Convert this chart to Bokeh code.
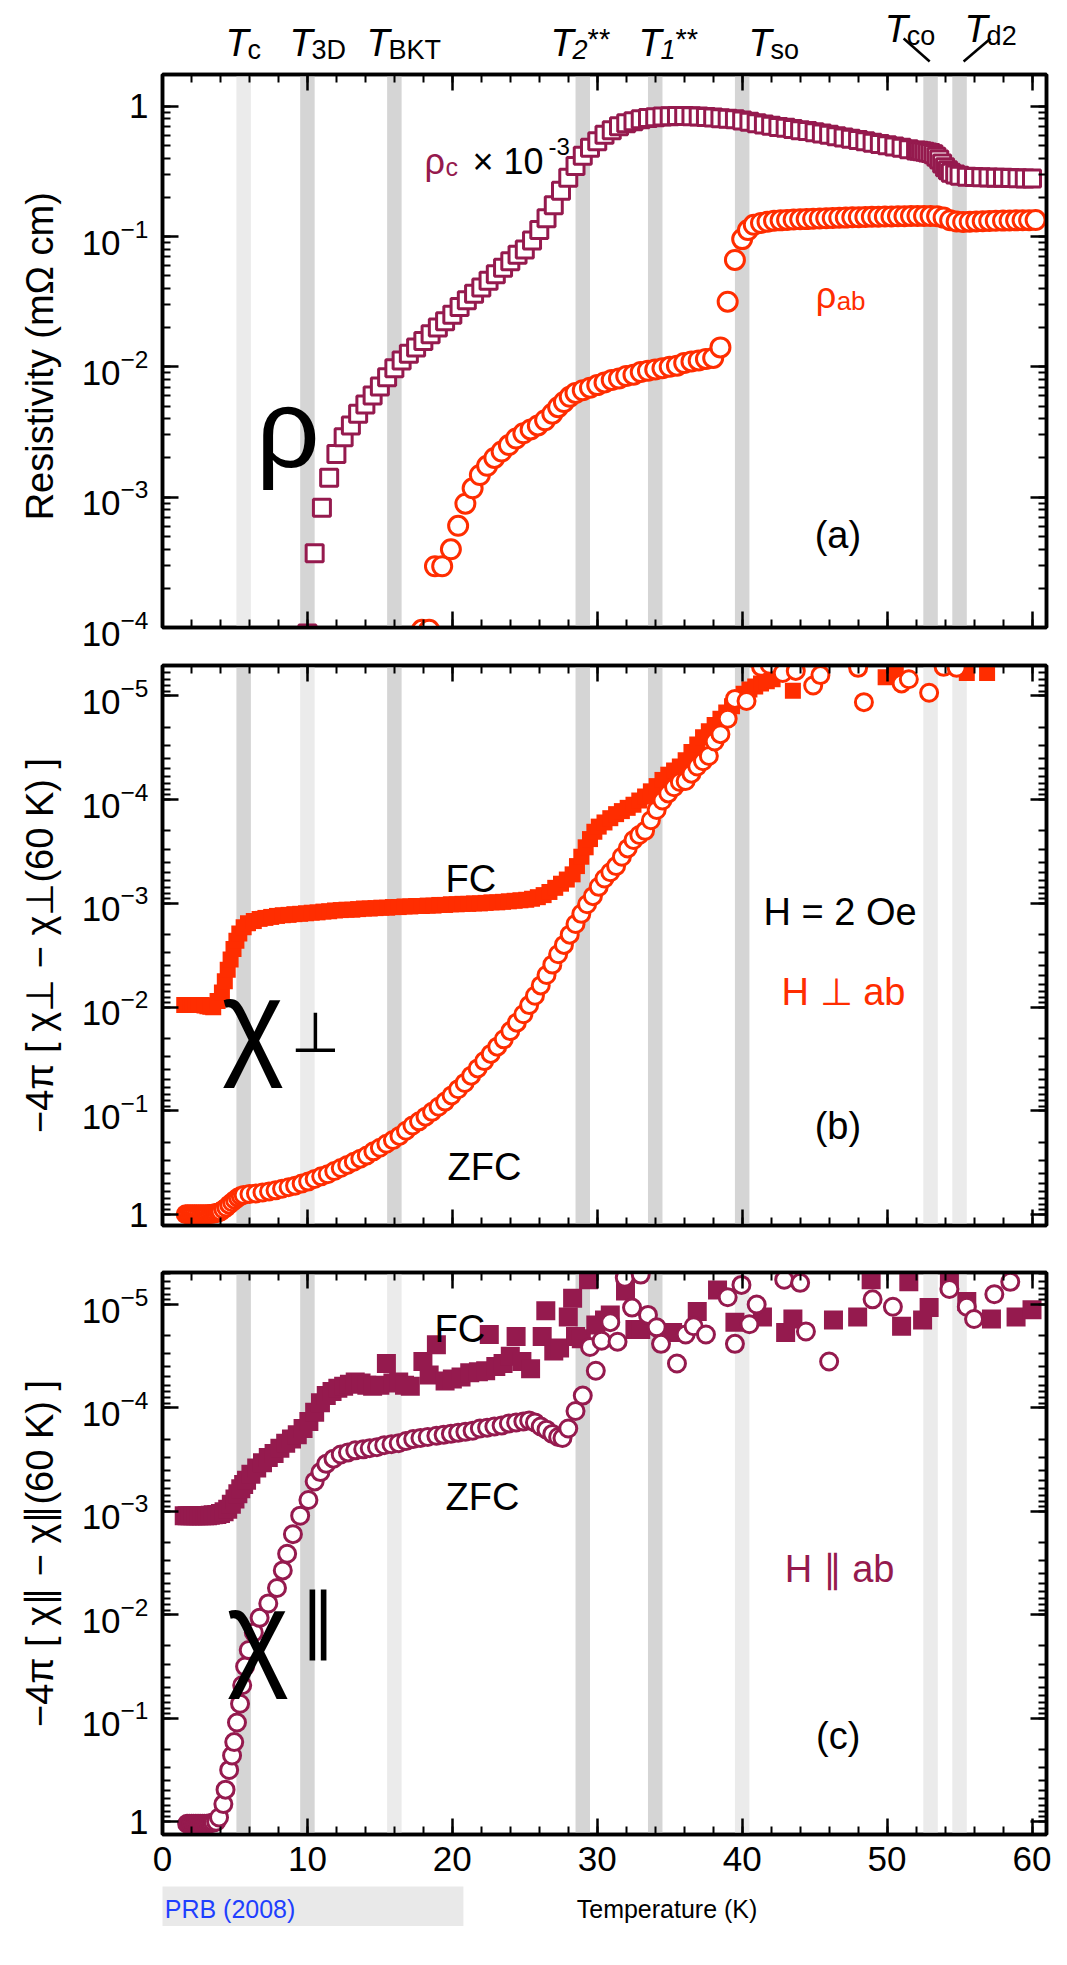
from bokeh.plotting import figure
from bokeh.models import (Range1d, LinearAxis, LogAxis, SingleIntervalTicker,
                          LogTicker, LogTickFormatter, CustomJSTickFormatter)
from bokeh.layouts import column
from bokeh.core.properties import value
from bokeh.embed import file_html
from bokeh.resources import INLINE

# ---------------------------------------------------------------- data
# (temperature K, value) pairs

# panel (a): resistivity, rho_c x 1e-3 (open squares) and rho_ab (open circles)
rho_c = [
    (10.0, 9.0e-5), (10.5, 3.72e-4), (11.0, 8.3e-4), (11.5, 1.41e-3), (12.0, 2.14e-3),
    (12.5, 2.88e-3), (13.0, 3.55e-3), (13.5, 4.37e-3), (14.0, 5.13e-3), (14.5, 6.03e-3),
    (15.0, 7.08e-3), (15.5, 8.32e-3), (16.0, 9.77e-3), (16.5, 1.12e-2), (17.0, 1.26e-2),
    (17.5, 1.41e-2), (18.0, 1.58e-2), (18.5, 1.78e-2), (19.0, 2.00e-2), (19.5, 2.24e-2),
    (20.0, 2.51e-2), (20.5, 2.88e-2), (21.0, 3.24e-2), (21.5, 3.63e-2), (22.0, 4.07e-2),
    (22.5, 4.57e-2), (23.0, 5.13e-2), (23.5, 5.75e-2), (24.0, 6.46e-2), (24.5, 7.24e-2),
    (25.0, 7.94e-2), (25.5, 9.33e-2), (26.0, 0.112), (26.5, 0.138), (27.0, 0.174),
    (27.5, 0.224), (28.0, 0.282), (28.5, 0.347), (29.0, 0.417), (29.5, 0.479),
    (30.0, 0.537), (30.5, 0.603), (31.0, 0.653), (31.5, 0.700), (32.0, 0.741),
    (32.5, 0.767), (33.0, 0.794), (33.5, 0.813), (34.0, 0.822), (34.5, 0.832),
    (35.0, 0.838), (35.5, 0.841), (36.0, 0.841), (36.5, 0.838), (37.0, 0.832),
    (37.5, 0.826), (38.0, 0.818), (38.5, 0.809), (39.0, 0.800), (39.5, 0.794),
    (40.0, 0.776), (40.5, 0.759), (41.0, 0.741), (41.5, 0.724), (42.0, 0.708),
    (42.5, 0.692), (43.0, 0.684), (43.5, 0.668), (44.0, 0.653), (44.5, 0.646),
    (45.0, 0.631), (45.5, 0.617), (46.0, 0.603), (46.5, 0.589), (47.0, 0.575),
    (47.5, 0.562), (48.0, 0.550), (48.5, 0.537), (49.0, 0.525), (49.5, 0.513),
    (50.0, 0.501), (50.5, 0.490), (51.0, 0.479), (51.5, 0.468), (52.0, 0.457),
    (52.2, 0.454), (52.4, 0.450), (52.6, 0.447), (52.8, 0.442), (53.0, 0.437),
    (53.2, 0.427), (53.4, 0.410), (53.6, 0.390), (53.8, 0.363), (54.0, 0.340),
    (54.2, 0.322), (54.4, 0.309), (54.7, 0.299), (55.0, 0.292), (55.5, 0.288),
    (56.0, 0.286), (56.5, 0.285), (57.0, 0.284), (57.5, 0.282), (58.0, 0.282),
    (58.5, 0.281), (59.0, 0.280), (59.5, 0.279), (60.0, 0.279),
]

rho_ab = [
    (17.9, 9.6e-5), (18.4, 9.6e-5), (18.8, 2.95e-4), (19.3, 2.95e-4), (19.9, 3.98e-4),
    (20.4, 6.03e-4), (20.9, 8.91e-4), (21.4, 1.17e-3), (21.9, 1.48e-3), (22.4, 1.74e-3),
    (22.9, 2.00e-3), (23.4, 2.24e-3), (23.9, 2.51e-3), (24.4, 2.82e-3), (24.9, 3.09e-3),
    (25.4, 3.31e-3), (25.9, 3.55e-3), (26.4, 3.89e-3), (26.9, 4.37e-3), (27.3, 4.90e-3),
    (27.7, 5.37e-3), (28.1, 5.89e-3), (28.5, 6.31e-3), (29.0, 6.61e-3), (29.5, 6.92e-3),
    (30.0, 7.24e-3), (30.5, 7.59e-3), (31.0, 7.94e-3), (31.5, 8.13e-3), (32.0, 8.51e-3),
    (32.5, 8.71e-3), (33.0, 9.12e-3), (33.5, 9.33e-3), (34.0, 9.55e-3), (34.5, 9.77e-3),
    (35.0, 1.00e-2), (35.5, 1.02e-2), (36.0, 1.07e-2), (36.5, 1.10e-2), (37.0, 1.12e-2),
    (37.5, 1.15e-2), (38.0, 1.17e-2), (38.5, 1.41e-2), (39.0, 3.16e-2), (39.5, 6.61e-2),
    (40.0, 9.55e-2), (40.4, 0.112), (40.8, 0.123), (41.3, 0.127), (41.75, 0.130),
    (42.2, 0.132), (42.65, 0.133), (43.1, 0.134), (43.55, 0.135), (44.0, 0.1355),
    (44.45, 0.136), (44.9, 0.1368), (45.35, 0.1374), (45.8, 0.138), (46.25, 0.1387),
    (46.7, 0.1393), (47.15, 0.1396), (47.6, 0.1403), (48.05, 0.1406), (48.5, 0.1413),
    (48.95, 0.1416), (49.4, 0.1419), (49.85, 0.1422), (50.3, 0.1426), (50.75, 0.1429),
    (51.2, 0.1432), (51.65, 0.1435), (52.1, 0.1439), (52.55, 0.1439), (53.0, 0.1435),
    (53.45, 0.1429), (53.9, 0.1396), (54.35, 0.1334), (54.8, 0.1303), (55.25, 0.1294),
    (55.7, 0.1300), (56.15, 0.1306), (56.6, 0.1312), (57.05, 0.1318), (57.5, 0.1321),
    (58.0, 0.1324), (58.45, 0.1327), (58.9, 0.1330), (59.35, 0.1334), (59.8, 0.1334),
    (60.25, 0.1337),
]

# panel (b): -4pi[chi_perp - chi_perp(60 K)], FC (filled squares) and ZFC (open circles)
chi_perp_fc = [
    (1.5, 9.55e-3), (1.7, 9.55e-3), (1.9, 9.55e-3), (2.1, 9.55e-3), (2.3, 9.55e-3),
    (2.5, 9.55e-3), (2.7, 9.55e-3), (2.9, 9.66e-3), (3.1, 9.77e-3), (3.3, 9.89e-3),
    (3.5, 1.00e-2), (3.8, 8.71e-3), (4.1, 7.24e-3), (4.3, 5.62e-3), (4.5, 4.37e-3),
    (4.7, 3.47e-3), (4.9, 2.75e-3), (5.1, 2.29e-3), (5.3, 1.95e-3), (5.6, 1.70e-3),
    (5.9, 1.55e-3), (6.3, 1.48e-3), (6.7, 1.41e-3), (7.1, 1.38e-3), (7.5, 1.35e-3),
    (7.9, 1.32e-3), (8.3, 1.30e-3), (8.7, 1.29e-3), (9.1, 1.27e-3), (9.5, 1.26e-3),
    (9.9, 1.245e-3), (10.3, 1.23e-3), (10.7, 1.22e-3), (11.1, 1.20e-3), (11.5, 1.19e-3),
    (11.9, 1.17e-3), (12.3, 1.16e-3), (12.7, 1.15e-3), (13.1, 1.15e-3), (13.5, 1.135e-3),
    (13.9, 1.12e-3), (14.3, 1.12e-3), (14.7, 1.11e-3), (15.1, 1.10e-3), (15.5, 1.10e-3),
    (15.9, 1.085e-3), (16.3, 1.085e-3), (16.7, 1.07e-3), (17.1, 1.07e-3), (17.5, 1.06e-3),
    (17.9, 1.06e-3), (18.3, 1.05e-3), (18.7, 1.05e-3), (19.1, 1.035e-3), (19.5, 1.035e-3),
    (19.9, 1.02e-3), (20.3, 1.02e-3), (20.7, 1.01e-3), (21.1, 1.01e-3), (21.5, 1.00e-3),
    (21.9, 1.00e-3), (22.3, 9.89e-4), (22.7, 9.77e-4), (23.1, 9.77e-4), (23.5, 9.66e-4),
    (23.9, 9.55e-4), (24.3, 9.44e-4), (24.7, 9.33e-4), (25.1, 9.23e-4), (25.5, 9.02e-4),
    (25.9, 8.71e-4), (26.3, 8.32e-4), (26.7, 7.76e-4), (27.1, 7.08e-4), (27.5, 6.46e-4),
    (27.9, 5.89e-4), (28.3, 5.25e-4), (28.6, 4.37e-4), (28.9, 3.55e-4), (29.2, 2.88e-4),
    (29.5, 2.40e-4), (29.8, 2.04e-4), (30.1, 1.82e-4), (30.5, 1.66e-4), (30.9, 1.51e-4),
    (31.3, 1.38e-4), (31.7, 1.29e-4), (32.1, 1.20e-4), (32.5, 1.12e-4), (32.9, 1.02e-4),
    (33.3, 9.33e-5), (33.7, 8.32e-5), (34.1, 7.41e-5), (34.5, 6.46e-5), (34.9, 5.75e-5),
    (35.3, 5.25e-5), (35.7, 4.79e-5), (36.1, 4.17e-5), (36.5, 3.47e-5), (36.9, 2.95e-5),
    (37.3, 2.51e-5), (37.7, 2.19e-5), (38.1, 1.91e-5), (38.5, 1.66e-5), (38.9, 1.45e-5),
    (39.3, 1.26e-5), (39.7, 1.10e-5), (40.1, 9.55e-6), (40.5, 8.71e-6), (40.9, 8.13e-6),
    (41.3, 7.59e-6), (41.7, 7.24e-6), (42.1, 6.92e-6), (43.5, 8.91e-6), (49.9, 6.61e-6),
    (50.6, 6.31e-6), (55.5, 6.03e-6), (56.9, 6.03e-6),
]

chi_perp_zfc = [
    (1.6, 0.989), (1.75, 0.989), (1.9, 0.989), (2.05, 0.989), (2.2, 0.989),
    (2.35, 0.989), (2.5, 0.989), (2.65, 0.989), (2.8, 0.989), (2.95, 0.988),
    (3.1, 0.987), (3.25, 0.985), (3.4, 0.981), (3.55, 0.975), (3.7, 0.963),
    (3.85, 0.950), (4.0, 0.933), (4.2, 0.890), (4.4, 0.851), (4.6, 0.800),
    (4.8, 0.759), (5.0, 0.720), (5.2, 0.684), (5.4, 0.660), (5.6, 0.646),
    (6.0, 0.631), (6.45, 0.624), (6.9, 0.610), (7.35, 0.596), (7.8, 0.582),
    (8.25, 0.562), (8.7, 0.543), (9.15, 0.525), (9.6, 0.501), (10.05, 0.479),
    (10.5, 0.452), (10.95, 0.427), (11.4, 0.407), (11.85, 0.380), (12.3, 0.355),
    (12.75, 0.331), (13.2, 0.309), (13.65, 0.288), (14.1, 0.269), (14.55, 0.245),
    (15.0, 0.226), (15.45, 0.207), (15.9, 0.191), (16.35, 0.174), (16.8, 0.155),
    (17.25, 0.138), (17.7, 0.126), (18.15, 0.1135), (18.6, 0.102), (19.05, 9.12e-2),
    (19.5, 8.13e-2), (19.95, 7.08e-2), (20.4, 6.17e-2), (20.85, 5.37e-2), (21.3, 4.57e-2),
    (21.75, 3.89e-2), (22.2, 3.31e-2), (22.65, 2.82e-2), (23.1, 2.40e-2), (23.55, 2.04e-2),
    (24.0, 1.70e-2), (24.45, 1.41e-2), (24.9, 1.17e-2), (25.3, 9.55e-3), (25.7, 7.76e-3),
    (26.1, 6.17e-3), (26.5, 4.90e-3), (26.9, 3.89e-3), (27.3, 3.09e-3), (27.7, 2.51e-3),
    (28.1, 2.00e-3), (28.5, 1.58e-3), (28.9, 1.26e-3), (29.3, 1.02e-3), (29.7, 8.51e-4),
    (30.1, 6.92e-4), (30.5, 5.75e-4), (30.9, 5.01e-4), (31.3, 4.37e-4), (31.7, 3.55e-4),
    (32.1, 2.95e-4), (32.5, 2.45e-4), (32.9, 2.19e-4), (33.3, 2.00e-4), (33.7, 1.58e-4),
    (34.1, 1.26e-4), (34.5, 1.02e-4), (34.9, 8.71e-5), (35.3, 7.59e-5), (35.7, 6.76e-5),
    (36.1, 6.61e-5), (36.5, 5.62e-5), (36.9, 4.79e-5), (37.3, 4.27e-5), (37.7, 3.80e-5),
    (38.1, 2.75e-5), (38.5, 2.34e-5), (39.0, 1.66e-5), (39.5, 1.07e-5), (40.3, 1.12e-5),
    (41.3, 5.25e-6), (41.9, 5.01e-6), (42.8, 6.03e-6), (43.7, 5.75e-6), (44.9, 7.94e-6),
    (45.4, 6.31e-6), (48.0, 5.37e-6), (48.4, 1.15e-5), (51.0, 7.59e-6), (51.5, 6.92e-6),
    (52.9, 9.33e-6), (53.9, 5.25e-6), (54.8, 5.37e-6),
]

# panel (c): -4pi[chi_par - chi_par(60 K)], FC (filled squares) and ZFC (open circles)
chi_par_fc = [
    (1.5, 1.10e-3), (1.7, 1.10e-3), (1.9, 1.10e-3), (2.1, 1.10e-3), (2.3, 1.10e-3),
    (2.5, 1.10e-3), (2.7, 1.10e-3), (2.9, 1.10e-3), (3.1, 1.10e-3), (3.3, 1.09e-3),
    (3.5, 1.08e-3), (3.75, 1.07e-3), (4.0, 1.05e-3), (4.25, 1.01e-3), (4.5, 9.55e-4),
    (4.75, 8.51e-4), (5.0, 7.59e-4), (5.2, 6.76e-4), (5.4, 6.03e-4), (5.6, 5.50e-4),
    (5.8, 5.01e-4), (6.1, 4.37e-4), (6.5, 3.80e-4), (6.9, 3.39e-4), (7.3, 3.02e-4),
    (7.7, 2.75e-4), (8.1, 2.45e-4), (8.5, 2.19e-4), (8.9, 2.00e-4), (9.3, 1.82e-4),
    (9.7, 1.58e-4), (10.1, 1.35e-4), (10.5, 1.10e-4), (10.9, 8.91e-5), (11.3, 7.59e-5),
    (11.7, 6.92e-5), (12.1, 6.46e-5), (12.5, 6.17e-5), (12.9, 5.89e-5), (13.3, 5.62e-5),
    (13.7, 5.75e-5), (14.1, 6.03e-5), (14.5, 6.17e-5), (15.0, 6.03e-5), (15.45, 3.72e-5),
    (15.9, 5.75e-5), (16.3, 5.62e-5), (16.7, 6.03e-5), (17.1, 6.17e-5), (17.97, 3.55e-5),
    (18.4, 4.79e-5), (18.9, 2.45e-5), (19.5, 5.50e-5), (20.0, 5.25e-5), (20.6, 5.01e-5),
    (21.2, 4.57e-5), (21.8, 4.47e-5), (22.3, 4.37e-5), (22.55, 1.95e-5), (23.0, 3.98e-5),
    (23.5, 3.72e-5), (24.0, 3.16e-5), (24.4, 2.04e-5), (24.8, 3.55e-5), (25.4, 4.17e-5),
    (26.2, 2.04e-5), (26.45, 1.15e-5), (27.0, 2.82e-5), (27.4, 2.63e-5), (28.0, 1.32e-5),
    (28.3, 8.71e-6), (28.5, 2.04e-5), (28.9, 2.14e-5), (29.4, 5.75e-6), (29.9, 1.58e-5),
    (30.5, 1.41e-5), (30.9, 1.26e-5), (31.95, 7.41e-6), (32.6, 1.74e-5), (33.0, 1.74e-5),
    (35.2, 1.86e-5), (36.9, 1.17e-5), (38.3, 7.24e-6), (39.5, 1.48e-5), (41.4, 1.32e-5),
    (43.0, 1.86e-5), (43.5, 1.38e-5), (46.3, 1.41e-5), (47.97, 1.32e-5), (48.9, 5.75e-6),
    (51.0, 1.62e-5), (51.5, 6.03e-6), (52.45, 1.41e-5), (52.9, 1.07e-5), (54.3, 6.17e-6),
    (55.5, 9.33e-6), (57.2, 1.38e-5), (58.9, 1.32e-5), (60.0, 1.12e-5),
]

chi_par_zfc = [
    (1.7, 1.047), (1.85, 1.047), (2.0, 1.047), (2.15, 1.047), (2.3, 1.047),
    (2.45, 1.047), (2.6, 1.047), (2.75, 1.047), (2.9, 1.047), (3.05, 1.045),
    (3.2, 1.040), (3.35, 1.035), (3.5, 1.020), (3.7, 1.000), (3.9, 0.912),
    (4.2, 0.676), (4.35, 0.490), (4.6, 0.316), (4.8, 0.229), (4.95, 0.170),
    (5.14, 0.110), (5.35, 7.24e-2), (5.5, 4.79e-2), (5.7, 3.16e-2), (5.95, 2.19e-2),
    (6.3, 1.48e-2), (6.7, 1.07e-2), (7.3, 7.76e-3), (7.9, 5.50e-3), (8.3, 3.72e-3),
    (8.6, 2.57e-3), (9.0, 1.66e-3), (9.5, 1.10e-3), (10.07, 7.76e-4), (10.5, 5.13e-4),
    (10.9, 4.17e-4), (11.3, 3.47e-4), (11.8, 3.09e-4), (12.3, 2.82e-4), (12.8, 2.69e-4),
    (13.3, 2.57e-4), (13.85, 2.51e-4), (14.3, 2.45e-4), (14.8, 2.40e-4), (15.3, 2.29e-4),
    (15.8, 2.24e-4), (16.3, 2.19e-4), (16.8, 2.09e-4), (17.3, 2.00e-4), (17.8, 1.95e-4),
    (18.3, 1.91e-4), (18.9, 1.86e-4), (19.4, 1.82e-4), (19.9, 1.78e-4), (20.4, 1.74e-4),
    (20.9, 1.70e-4), (21.4, 1.66e-4), (21.9, 1.58e-4), (22.4, 1.55e-4), (22.9, 1.51e-4),
    (23.4, 1.48e-4), (23.9, 1.41e-4), (24.4, 1.38e-4), (24.9, 1.35e-4), (25.3, 1.32e-4),
    (25.7, 1.38e-4), (26.1, 1.51e-4), (26.5, 1.62e-4), (26.9, 1.78e-4), (27.3, 1.91e-4),
    (27.6, 1.95e-4), (28.0, 1.58e-4), (28.5, 1.07e-4), (29.0, 7.59e-5), (29.5, 2.57e-5),
    (29.9, 4.37e-5), (30.3, 2.24e-5), (30.9, 1.48e-5), (31.4, 2.29e-5), (31.9, 5.50e-6),
    (32.4, 1.07e-5), (33.0, 5.13e-6), (33.5, 1.26e-5), (34.1, 1.66e-5), (34.4, 2.40e-5),
    (35.5, 3.72e-5), (36.1, 1.95e-5), (36.65, 1.62e-5), (37.5, 1.95e-5), (39.0, 8.51e-6),
    (39.5, 2.40e-5), (39.95, 6.46e-6), (40.5, 1.55e-5), (41.0, 1.00e-5), (42.9, 5.75e-6),
    (44.0, 6.17e-6), (44.4, 1.82e-5), (46.0, 3.55e-5), (49.0, 8.91e-6), (50.4, 1.05e-5),
    (54.3, 7.08e-6), (55.5, 1.05e-5), (56.0, 1.38e-5), (57.4, 7.94e-6), (58.5, 6.03e-6),
]

# characteristic temperatures (grey bands) and their labels
band_T = [5.6, 10.0, 16.0, 29.0, 34.0, 40.0, 53.0, 55.0]
band_sub = ["c", "3D", "BKT", "2", "1", "so", "co", "d2"]
band_star = ["", "", "", "**", "**", "", "", ""]
shade_a = ["light", "dark", "dark", "dark", "dark", "dark", "dark", "dark"]
shade_b = ["dark", "light", "dark", "dark", "dark", "dark", "light", "light"]
shade_c = ["dark", "dark", "light", "dark", "dark", "light", "light", "light"]

# ---------------------------------------------------------------- style
FONT = "Liberation Sans"
RED = "#ff2d00"
MAROON = "#951a4e"
SHADE = {"dark": "#d5d5d5", "light": "#ebebeb"}
W, LB, RB = 1051, 162, 5
X_MAX = 61
xr = Range1d(0, X_MAX)


def unzip(pairs):
    return [a for a, _ in pairs], [b for _, b in pairs]


def style_axis(ax, labels, standoff=14):
    ax.axis_line_color = "black"
    ax.axis_line_width = 3.5
    ax.major_tick_line_color = "black"
    ax.major_tick_line_width = 2.5
    ax.minor_tick_line_color = "black"
    ax.minor_tick_line_width = 2
    ax.major_tick_in = 16
    ax.major_tick_out = 0
    ax.minor_tick_in = 8
    ax.minor_tick_out = 0
    if labels:
        ax.major_label_text_font = FONT
        ax.major_label_text_font_size = "35px"
        ax.major_label_text_color = "black"
        ax.major_label_standoff = standoff
    else:
        ax.formatter = CustomJSTickFormatter(code="return ''")
        ax.major_label_text_font_size = "0px"
        ax.major_label_standoff = 0


def panel(height, top, bottom, y0, y1, ylabel, shades, xlabels=False):
    p = figure(width=W, height=height, x_range=xr, y_range=Range1d(y0, y1),
               y_axis_type="log", min_border=0, min_border_left=LB, min_border_right=RB,
               min_border_top=top, min_border_bottom=bottom,
               toolbar_location=None, tools="", output_backend="svg")
    p.grid.visible = False
    p.background_fill_color = "white"
    p.border_fill_color = "white"
    p.outline_line_color = "black"
    p.outline_line_width = 3.5
    xb = p.xaxis[0]
    xb.ticker = SingleIntervalTicker(interval=10, num_minor_ticks=5)
    style_axis(xb, xlabels, standoff=12)
    xt = LinearAxis(ticker=SingleIntervalTicker(interval=10, num_minor_ticks=5))
    style_axis(xt, False)
    p.add_layout(xt, "above")
    yl = p.yaxis[0]
    yl.ticker = LogTicker(num_minor_ticks=10)
    yl.formatter = LogTickFormatter(min_exponent=1)
    style_axis(yl, True)
    yl.axis_label = ylabel
    yl.axis_label_text_font = FONT
    yl.axis_label_text_font_size = "38px"
    yl.axis_label_text_font_style = "normal"
    yl.axis_label_text_color = "black"
    yl.axis_label_standoff = 18
    yrt = LogAxis(ticker=LogTicker(num_minor_ticks=10))
    style_axis(yrt, False)
    p.add_layout(yrt, "right")
    p.vbar(x=band_T, width=1.0, bottom=1e-9, top=1e3,
           fill_color=[SHADE[s] for s in shades], line_color=None)
    return p


def strip(height, x_range, left):
    p = figure(width=W, height=height, x_range=x_range, y_range=Range1d(0, height),
               min_border=0, min_border_left=left, min_border_right=RB, min_border_top=0,
               min_border_bottom=0, toolbar_location=None, tools="",
               output_backend="svg", x_axis_location=None, y_axis_location=None)
    p.grid.visible = False
    p.outline_line_color = None
    p.background_fill_color = "white"
    p.border_fill_color = "white"
    return p


def txt(p, x, y, s, size, color="black", style="normal", xo=0, yo=0, align="left"):
    p.text(x=[x], y=[y], text=[s], text_font=value(FONT),
           text_font_size=value(f"{size}px"), text_font_style=style,
           text_color=color, x_offset=xo, y_offset=yo,
           text_align=align, text_baseline="alphabetic")


# ---------------------------------------------------------------- top labels
pt = strip(64, xr, LB)
label_x = [4.35, 8.76, 14.08, 26.78, 32.85, 40.44, 49.83, 55.35]
label_y = [22, 22, 22, 22, 22, 22, 36, 36]
for lx, ly, sub, star in zip(label_x, label_y, band_sub, band_star):
    txt(pt, lx, ly, "T", 38, style="italic")
    txt(pt, lx, ly, sub, 27, style="italic" if sub.isdigit() else "normal", xo=22, yo=7)
    if star:
        txt(pt, lx, ly, star, 29, xo=37, yo=-4)
pt.segment(x0=[51.14, 57.14], y0=[26, 26], x1=[52.94, 55.28], y1=[3, 3],
           line_color="black", line_width=2.5)

# ---------------------------------------------------------------- panel (a)
pa = panel(589, 10, 26, 1e-4, 1.75, "Resistivity  (m\u03a9 cm)", shade_a)
x, y = unzip(rho_c)
pa.scatter(x, y, marker="square", size=17, fill_color="white",
           line_color=MAROON, line_width=3)
x, y = unzip(rho_ab)
pa.scatter(x, y, marker="circle", size=19, fill_color="white",
           line_color=RED, line_width=3)
txt(pa, 6.45, 3.36e-3, "\u03c1", 112)
txt(pa, 18.08, 0.3795, "\u03c1", 36, color=MAROON)
txt(pa, 18.08, 0.3795, "c", 25, color=MAROON, xo=21, yo=6)
txt(pa, 18.08, 0.3795, "\u00d7 10", 36, xo=48)
txt(pa, 18.08, 0.3795, "-3", 24, xo=124, yo=-15)
txt(pa, 45.07, 3.54e-2, "\u03c1", 36, color=RED)
txt(pa, 45.07, 3.54e-2, "ab", 26, color=RED, xo=21, yo=6)
txt(pa, 45.0, 5.13e-4, "(a)", 38)

# ---------------------------------------------------------------- panel (b)
pb = panel(595, 12, 23, 1.27, 5.1e-6,
           "\u22124\u03c0 [ \u03c7\u22a5 \u2212 \u03c7\u22a5(60 K) ]", shade_b)
x, y = unzip(chi_perp_fc)
pb.scatter(x, y, marker="square", size=16, fill_color=RED, line_color=None)
x, y = unzip(chi_perp_zfc)
pb.scatter(x, y, marker="circle", size=17, fill_color="white",
           line_color=RED, line_width=3)
txt(pb, 19.53, 5.86e-4, "FC", 38)
txt(pb, 19.67, 0.345, "ZFC", 38)
txt(pb, 41.48, 1.215e-3, "H = 2 Oe", 38)
txt(pb, 42.72, 7.10e-3, "H \u22a5 ab", 38, color=RED)
txt(pb, 45.0, 0.1397, "(b)", 38)
txt(pb, 4.1, 1.38e-2, "\u03c7", 118)
txt(pb, 8.85, 1.75e-2, "\u22a5", 56)

# ---------------------------------------------------------------- panel (c)
pc = panel(638, 24, 52, 1.33, 4.9e-6,
           "\u22124\u03c0 [ \u03c7\u2225 \u2212 \u03c7\u2225(60 K) ]", shade_c, xlabels=True)
x, y = unzip(chi_par_fc)
pc.scatter(x, y, marker="square", size=19, fill_color=MAROON, line_color=None)
x, y = unzip(chi_par_zfc)
pc.scatter(x, y, marker="circle", size=17, fill_color="white",
           line_color=MAROON, line_width=3)
txt(pc, 18.77, 1.73e-5, "FC", 38)
txt(pc, 19.53, 7.31e-4, "ZFC", 38)
txt(pc, 42.93, 3.60e-3, "H \u2225 ab", 38, color=MAROON)
txt(pc, 45.1, 0.1486, "(c)", 38)
txt(pc, 4.45, 1.49e-2, "\u03c7", 118)
txt(pc, 9.5, 1.113e-2, "\u2225", 72)

# ---------------------------------------------------------------- bottom strip
# x-axis title and the note in the lower-left corner, kept in the strip's upper part
pbot = strip(40, Range1d(-11.18, X_MAX), 0)
pbot.quad(left=[-12], right=[13.39], bottom=[-1], top=[41],
          fill_color="#e9e9e9", line_color=None)
txt(pbot, -11.0, 17.3, "PRB (2008)", 25, color="#1f3fff")
txt(pbot, 30.3, 17.3, "Temperature  (K)", 25, align="center")

# empty trailing strip
pend = strip(20, Range1d(0, 1), 0)

layout = column(pt, pa, pb, pc, pbot, pend, spacing=0)
open("out.html", "w").write(file_html(layout, INLINE))
